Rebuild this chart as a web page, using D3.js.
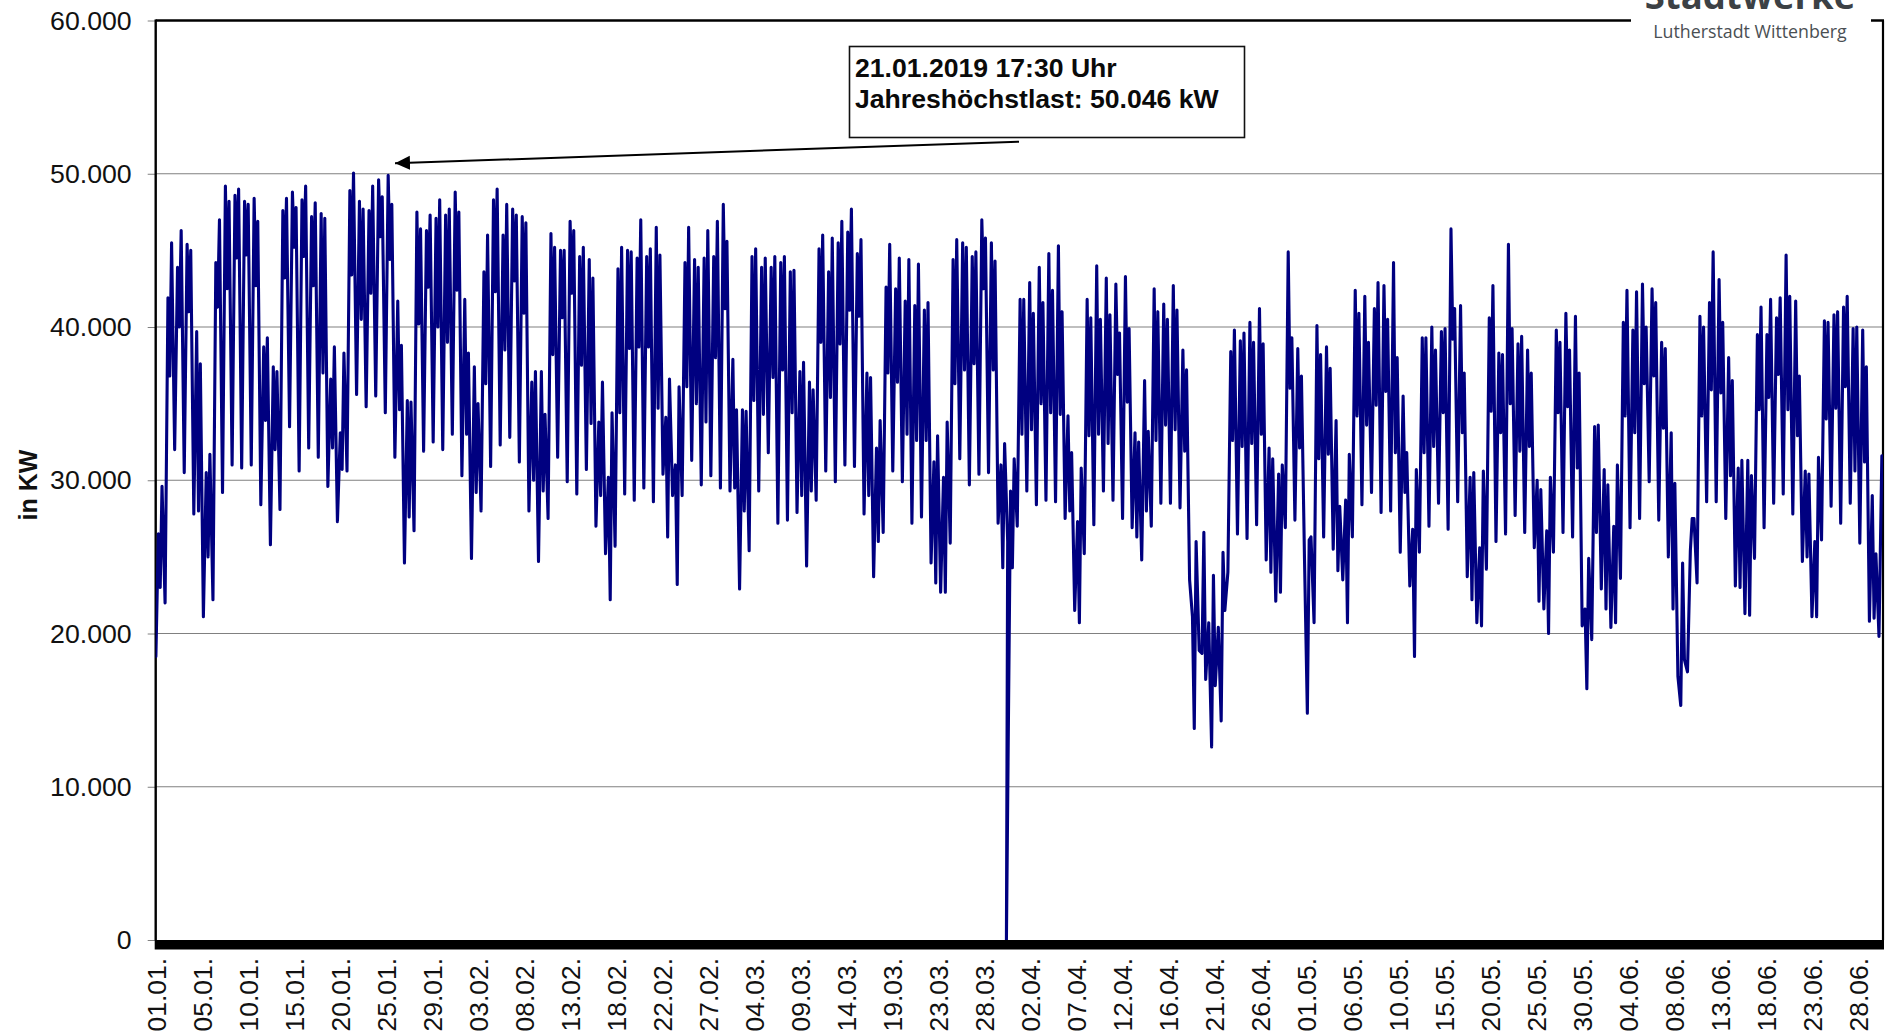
<!DOCTYPE html>
<html>
<head>
<meta charset="utf-8">
<script src="https://cdnjs.cloudflare.com/ajax/libs/d3/7.8.5/d3.min.js"></script>
<style>
  html, body { margin: 0; background: #fff; }
  text { font-family: "Liberation Sans", Arial, sans-serif; }
</style>
</head>
<body>
<div id="chart"></div>
<script>
// load, in 1000 kW, four readings for each day from 01.01. to 30.06.
var startLoad = 18.5;
var outageDay = 89, outageLoad = 0; // 31.03., clock change

var morningPeak = [
  26.5,41.9,43.9,45.4,39.7,30.5,44.2,49.2,48.6,48.2,48.4,38.7,37.4,47.6,48.8,48.3,47.2,47.4,36.6,33.1,48.9,48.2,47.6,49.6,49.9,41.7,35.2,47.5,46.3,47.1,47.3,
  48.8,41.8,37.4,43.6,48.3,46,47.7,47.2,36.4,37.1,46.1,45,46.9,44.6,44.4,33.8,30.2,43.8,45,44.5,44.6,46.5,34.1,31,44.2,44.4,44.5,44.6,
  48,37.9,34.6,44.6,43.9,43.9,44.2,43.6,37.1,36.4,45.1,43.6,45.5,46.2,44.8,37,32.1,42.6,42.5,41.7,41.4,41.1,31.2,30.2,44.4,45.5,44.6,47,45.5,31,29.3,
  41.8,42.9,43.9,44.8,45.3,34.2,27.3,41.8,44,43.2,42.8,43.3,33.1,36.5,42.5,41.5,42.7,38.5,21.1,18.7,12.6,14.3,38.4,39.1,40.3,41.2,32.1,30.4,44.9,38.6,
  14.8,40.1,38.7,33.9,28.7,42.4,42,41.2,42.7,44.2,35.5,26.8,39.3,40,39.7,46.4,41.4,30.2,25.6,40.6,38.3,45.4,38.9,38.5,30,26.7,39.8,40.9,40.7,21.6,33.5,
  30.7,27,40.3,39.8,42.8,42.5,39,33.1,15.3,25.4,40.7,41.6,43.1,38,30.8,31.3,39.5,39.5,40.6,44.7,41.7,30.6,26,40.4,40.8,41.3,39.9,39.8,29,31.6
];
var noonDip = [
  23,36.8,40,41,28,25,41.3,42.5,44.5,44.7,42.7,33.9,32,43.2,45.2,44.6,42.7,37,32.1,30.7,43.4,40.5,42.2,45.9,44.4,34.6,27.6,40.2,42.6,40,39,
  42.4,33,29.2,36.3,42.3,38.5,43,40.9,30,29.3,38.2,40.6,42.2,37.5,33.7,29,22.2,34.4,38.6,38.7,38.7,34.7,26.3,23.2,36.1,35,33.8,38,
  41.2,29.5,28,35.2,34.3,36.7,37.2,34.4,29,29.3,39,35.4,38.9,41.1,40.7,29,26,37,36.4,33,32.6,32.6,23.3,22.7,36.3,37.2,37.6,42.5,37.2,24.3,24.3,
  33,33.3,35,34.4,34.3,28,20.7,32.9,33,32.4,36.9,35.1,26.3,28,32.6,33.6,33.3,31.9,13.8,26.6,23.8,25.3,32.6,32.2,32.4,33,24,22.7,36,32.1,
  26.1,31.4,31.7,24.1,20.7,34.2,33.6,34.9,35.8,31.8,29.2,18.5,31.8,32.2,34.4,39.2,33.1,22.2,20.5,34.5,33.1,35,31.9,32.2,22.1,20,34.4,34.8,30.8,16.4,26.6,
  21.6,20.7,34.2,33.1,36.3,36.8,33.4,21.6,24.6,27.5,34.2,35.9,35.7,30.3,23,21.2,34.6,35.4,36.9,34.6,32.9,25,21.1,34,34.7,36.1,30.6,31.2,21
];
var eveningPeak = [
  29.6,45.5,46.3,45,37.6,31.7,47,48.2,49,48,46.9,39.3,37.1,48.4,47.8,49.2,48.1,47.1,38.7,38.3,50.05,47.7,49.2,48.5,48,38.8,35.1,46.4,47.3,48.3,47.7,
  47.5,38.3,35,46,49,48,47.3,46.8,37.1,34.3,45.2,45,46.3,45.2,43.2,36.4,34.4,45.2,44.9,47,45.1,44.7,36.6,36.1,46.5,43.9,46.3,46.9,
  45.6,34.6,34.5,45.1,44.5,44.6,44.6,43.7,37.7,35.9,46,45.8,46.9,47.7,45.7,36.7,33.9,45.4,44.5,44.4,44.1,41.6,32.9,33.8,45.7,45.2,44.9,45.8,44.3,32.4,31.4,
  41.8,40.9,41.6,42.4,41,31.8,30.8,40.6,40.5,40.8,39.6,39.9,32.5,33.2,41,40.5,41.1,37.2,26,17,16.6,21.5,39.8,39.6,39,38.9,31.4,31,39.3,36.8,
  26.3,38.2,37.3,28.3,31.7,40.9,39,42.9,40.5,38,31.8,30.7,39.3,38.5,39.9,41.2,37,30.5,30.6,42.7,38.2,39.9,39.4,37,29.4,30.2,39,38.5,37,24.9,33.6,
  29.7,31,42.4,42.3,40,41.6,38.6,29.8,18.3,27.5,40,44.9,40.3,36.5,31.3,30.3,41.3,41.8,41.9,42,36.8,30.4,31.5,40.3,41,42,40,37.4,25.2
];
var nightLow = [
  22,32,30.5,27.8,21.1,22.2,29.2,31,30.8,31,28.4,25.8,28.1,33.5,30.6,32.1,31.5,29.6,27.3,30.6,35.6,34.8,35.5,34.4,31.5,24.6,26.7,31.9,32.5,32,33,
  30.3,24.9,28,30.9,32.3,32.8,31.2,28,24.7,27.5,31.5,29.9,29.1,30.7,27,25.2,25.7,29.1,28.7,29.5,28.6,30.4,29,29,31.3,29.7,30.3,29.5,
  29.3,22.9,25.4,29.3,31.8,27.2,27.4,27.9,24.4,28.7,30.6,29.9,31,30.9,27.8,23.7,26.6,30.6,29.9,27.2,27.6,24.6,22.7,25.9,31.4,29.7,30.4,30.5,27.2,26,27,
  29.3,28.4,28.7,28.6,27.5,21.5,25.2,27.1,29.3,28.7,27.5,26.9,24.8,27,28.5,28.5,28.2,23.5,18.9,20.7,20.4,24,26.5,26.2,27.1,24.8,22.1,26.9,27.4,24.9,
  20.7,26.3,25.5,23.5,26.3,28.4,29.2,27.9,28,25.3,23.1,25.3,27,28.5,26.8,28.6,23.7,20.7,24.2,26,26.5,27.7,26.6,25.6,21.6,25.3,26.6,26.3,20.5,19.6,22.9,
  20.4,23.6,26.9,27.5,29.9,27.4,25,17.2,17.5,23.3,28.6,28.6,27.5,23.1,21.3,24.9,26.9,28.5,29.1,27.8,24.7,21.1,26.1,28.3,27.2,28.5,25.9,20.8,19.8
];

var dateLabels = [
  "01.01.","05.01.","10.01.","15.01.","20.01.","25.01.","29.01.","03.02.","08.02.","13.02.",
  "18.02.","22.02.","27.02.","04.03.","09.03.","14.03.","19.03.","23.03.","28.03.","02.04.",
  "07.04.","12.04.","16.04.","21.04.","26.04.","01.05.","06.05.","10.05.","15.05.","20.05.",
  "25.05.","30.05.","04.06.","08.06.","13.06.","18.06.","23.06.","28.06."
];
var loadTicks = [0, 10, 20, 30, 40, 50, 60];

var width = 1890, height = 1034;
var left = 155.7, right = 1883, top_ = 20.5, bottom = 940;

var svg = d3.select("#chart").append("svg")
  .attr("width", width)
  .attr("height", height)
  .style("display", "block");

var x = d3.scaleLinear().domain([0, 180.4]).range([left, right]);
var y = d3.scaleLinear().domain([0, 60]).range([bottom, top_]);
var xLabels = d3.scalePoint().domain(dateLabels).range([left, 1858]);

// put the daily readings in time order
var series = [{t: 0.02, v: startLoad}];
morningPeak.forEach(function(m, d) {
  if (d == outageDay) series.push({t: d - 0.15, v: outageLoad});
  series.push({t: d + 0.28, v: m});
  if (noonDip[d] !== undefined) series.push({t: d + 0.47, v: noonDip[d]});
  if (eveningPeak[d] !== undefined) series.push({t: d + 0.66, v: eveningPeak[d]});
  if (nightLow[d] !== undefined) series.push({t: d + 0.98, v: nightLow[d]});
});

// grid and y axis
var yAxis = svg.append("g")
  .attr("transform", "translate(" + left + ",0)")
  .call(d3.axisLeft(y).tickValues(loadTicks).tickSize(8).tickPadding(16)
    .tickFormat(function(d) { return d == 0 ? "0" : d + ".000"; }));
yAxis.select(".domain").remove();
yAxis.selectAll("line").attr("stroke", "#808080");
yAxis.selectAll("text")
  .attr("fill", "#111")
  .style("font-family", "'Liberation Sans', Arial, sans-serif")
  .style("font-size", "26.7px");

svg.append("g").selectAll("line")
  .data(loadTicks.filter(function(d) { return d > 0 && d < 60; }))
  .enter().append("line")
    .attr("x1", left).attr("x2", right)
    .attr("y1", function(d) { return y(d); })
    .attr("y2", function(d) { return y(d); })
    .attr("stroke", "#808080")
    .attr("stroke-width", 1.2);

// x axis labels, standing on end
var xAxis = svg.append("g")
  .attr("transform", "translate(0," + 958 + ")")
  .call(d3.axisBottom(xLabels).tickSize(0).tickPadding(0));
xAxis.select(".domain").remove();
xAxis.selectAll("text")
  .attr("fill", "#111")
  .attr("text-anchor", "end")
  .attr("dy", null)
  .attr("y", 0)
  .attr("x", 0)
  .attr("transform", "rotate(-90) translate(0,9.5)")
  .style("font-family", "'Liberation Sans', Arial, sans-serif")
  .style("font-size", "26.4px");

// frame
svg.append("line").attr("x1", left).attr("x2", left).attr("y1", top_ - 1).attr("y2", bottom)
  .attr("stroke", "#000").attr("stroke-width", 2.4);
svg.append("line").attr("x1", left).attr("x2", right + 1).attr("y1", top_).attr("y2", top_)
  .attr("stroke", "#000").attr("stroke-width", 2.6);
svg.append("line").attr("x1", right).attr("x2", right).attr("y1", top_).attr("y2", bottom)
  .attr("stroke", "#000").attr("stroke-width", 2.2);
svg.append("rect").attr("x", left - 1).attr("y", bottom).attr("width", right - left + 2).attr("height", 9.5)
  .attr("fill", "#000");

// load curve
svg.append("clipPath").attr("id", "plot").append("rect")
  .attr("x", left).attr("y", top_).attr("width", right - left).attr("height", bottom - top_);

var line = d3.line()
  .x(function(d) { return x(d.t); })
  .y(function(d) { return y(d.v); });

svg.append("path")
  .datum(series)
  .attr("clip-path", "url(#plot)")
  .attr("d", line)
  .attr("fill", "none")
  .attr("stroke", "#000080")
  .attr("stroke-width", 3.1)
  .attr("stroke-linejoin", "round")
  .attr("stroke-linecap", "round");

// y title
svg.append("text")
  .attr("transform", "translate(37,485) rotate(-90)")
  .attr("text-anchor", "middle")
  .attr("font-size", 25)
  .attr("font-weight", "bold")
  .attr("fill", "#111")
  .text("in KW");

// note with arrow
svg.append("defs").append("marker")
  .attr("id", "head")
  .attr("markerUnits", "userSpaceOnUse")
  .attr("markerWidth", 16).attr("markerHeight", 16)
  .attr("refX", 15).attr("refY", 8)
  .attr("orient", "auto")
  .append("path").attr("d", "M0,1 L15,8 L0,15 Z").attr("fill", "#000");

svg.append("line")
  .attr("x1", 1019).attr("y1", 141.7).attr("x2", 395).attr("y2", 163.3)
  .attr("stroke", "#000").attr("stroke-width", 2)
  .attr("marker-end", "url(#head)");

svg.append("rect")
  .attr("x", 849.5).attr("y", 46.5).attr("width", 395).attr("height", 91)
  .attr("fill", "#fff").attr("stroke", "#111").attr("stroke-width", 1.6);

var note = svg.append("g").attr("font-size", 26.6).attr("font-weight", "bold").attr("fill", "#0a0a0a");
note.append("text").attr("x", 855).attr("y", 77).text("21.01.2019 17:30 Uhr");
note.append("text").attr("x", 855).attr("y", 108).text("Jahreshöchstlast: 50.046 kW");

// logo corner
svg.append("rect").attr("x", 1631).attr("y", 0).attr("width", 240).attr("height", 26).attr("fill", "#fff");
svg.append("text")
  .attr("x", 1750).attr("y", 8.5)
  .attr("text-anchor", "middle")
  .attr("font-size", 36.5)
  .attr("font-weight", "bold")
  .attr("fill", "#3c4145")
  .style("font-family", "'Open Sans', sans-serif")
  .text("Stadtwerke");
svg.append("text")
  .attr("x", 1750).attr("y", 38)
  .attr("text-anchor", "middle")
  .attr("font-size", 17.8)
  .attr("fill", "#4a4f53")
  .style("font-family", "'Open Sans', sans-serif")
  .text("Lutherstadt Wittenberg");
</script>
</body>
</html>
